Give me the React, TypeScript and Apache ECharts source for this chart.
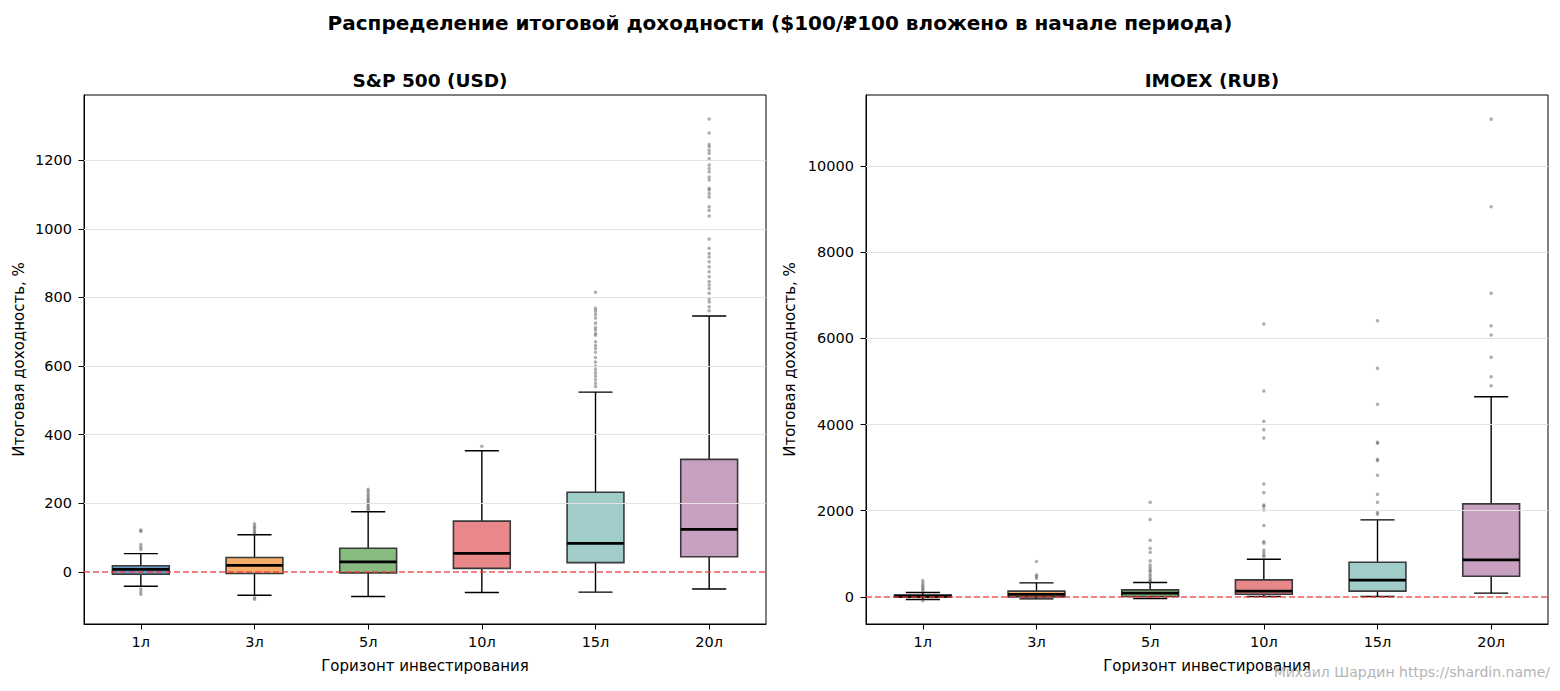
import React, { useEffect, useRef } from "react";
import * as echarts from "echarts";

const categories = ["1л", "3л", "5л", "10л", "15л", "20л"];
const boxColors = ["#6b9bc8", "#f4ad6b", "#88bb80", "#e8888a", "#a0ccc9", "#c8a0c0"];

// [lowWhisker, Q1, median, Q3, highWhisker]
const spStats = [
  [-42, -7, 7, 18, 53],
  [-68, -5, 19, 42, 108],
  [-72, -3, 29, 69, 175],
  [-60, 10, 54, 148, 353],
  [-59, 27, 83, 232, 524],
  [-50, 44, 124, 328, 746],
];
const spOutliers = [
  [122, 118, 80, 72, 65, -50, -58, -65],
  [140, 133, 128, 122, 116, 112, -75, -80],
  [241, 235, 228, 222, 215, 210, 205, 200, 195, 190, 185, 180],
  [366],
  [815, 768, 760, 750, 740, 725, 712, 705, 695, 690, 671, 660, 651, 640, 625, 612, 600, 590, 580, 570, 560, 550, 540],
  [1320, 1279, 1246, 1239, 1229, 1220, 1205, 1186, 1176, 1166, 1151, 1142, 1118, 1113, 1103, 1093, 1064, 1054, 1037, 970, 943, 928, 918, 904, 889, 875, 860, 846, 836, 826, 812, 797, 787, 773, 761],
];

const imStats = [
  [-60, -10, 15, 40, 100],
  [-46, 0, 60, 132, 325],
  [-39, 8, 86, 162, 332],
  [8, 62, 132, 394, 874],
  [8, 132, 387, 805, 1786],
  [86, 480, 858, 2158, 4647],
];
const imOutliers = [
  [380, 320, 270, 230, 190, 150, -90],
  [820, 510, 471, 433],
  [2197, 1794, 1315, 1129, 1036, 835, 742, 680, 626, 587, 527, 471, 418, 378, 348],
  [6334, 4779, 4076, 3882, 3689, 2622, 2420, 2134, 2096, 2018, 1655, 1284, 1245, 1090, 1028, 974, 935],
  [6410, 5306, 4470, 3589, 3566, 3194, 3162, 2823, 2383, 2197, 1956, 1918],
  [11090, 9056, 7046, 6294, 6078, 5561, 5111, 4902],
];

const spTicks = [0, 200, 400, 600, 800, 1000, 1200];
const imTicks = [0, 2000, 4000, 6000, 8000, 10000];

const FONT = "DejaVu Sans";
const TICK_FS = 14.5;

function boxRender(params: any, api: any) {
  const idx = api.value(0);
  const lo = api.coord([idx, api.value(1)]);
  const q1 = api.coord([idx, api.value(2)]);
  const med = api.coord([idx, api.value(3)]);
  const q3 = api.coord([idx, api.value(4)]);
  const hi = api.coord([idx, api.value(5)]);
  const bw = api.size([1, 0])[0] * 0.5;
  const cx = lo[0];
  const cap = bw * 0.3;
  const black = { stroke: "#000", lineWidth: 1.4 };
  return {
    type: "group",
    children: [
      { type: "line", shape: { x1: cx, y1: lo[1], x2: cx, y2: q1[1] }, style: black },
      { type: "line", shape: { x1: cx, y1: q3[1], x2: cx, y2: hi[1] }, style: black },
      { type: "line", shape: { x1: cx - cap, y1: lo[1], x2: cx + cap, y2: lo[1] }, style: black },
      { type: "line", shape: { x1: cx - cap, y1: hi[1], x2: cx + cap, y2: hi[1] }, style: black },
      {
        type: "rect",
        shape: { x: cx - bw / 2, y: q3[1], width: bw, height: q1[1] - q3[1] },
        style: { fill: boxColors[idx], stroke: "#3a3a3a", lineWidth: 1.6 },
      },
      { type: "line", shape: { x1: cx - bw / 2, y1: med[1], x2: cx + bw / 2, y2: med[1] }, style: { stroke: "#000", lineWidth: 2.8 } },
    ],
  };
}

function panelSeries(stats: number[][], outliers: number[][], ticks: number[], gi: number) {
  const boxData = stats.map((s, i) => [i, ...s]);
  const outData: number[][] = [];
  outliers.forEach((arr, i) => arr.forEach((v) => outData.push([i, v])));
  return [
    {
      type: "scatter",
      xAxisIndex: gi,
      yAxisIndex: gi,
      data: [],
      z: 0,
      silent: true,
      markLine: {
        silent: true,
        symbol: ["none", "none"],
        label: { show: false },
        lineStyle: { color: "#e3e3e3", type: "solid", width: 1 },
        data: ticks.filter((t) => t !== 0).map((t) => ({ yAxis: t })),
      },
    },
    {
      type: "custom",
      xAxisIndex: gi,
      yAxisIndex: gi,
      data: boxData,
      renderItem: boxRender,
      encode: { x: 0, y: [1, 2, 3, 4, 5] },
      z: 2,
      silent: true,
    },
    {
      type: "scatter",
      xAxisIndex: gi,
      yAxisIndex: gi,
      data: outData,
      symbolSize: 3.5,
      itemStyle: { color: "rgba(70,70,70,0.55)" },
      z: 3,
      silent: true,
    },
    {
      type: "scatter",
      xAxisIndex: gi,
      yAxisIndex: gi,
      data: [],
      z: 5,
      silent: true,
      markLine: {
        silent: true,
        symbol: ["none", "none"],
        label: { show: false },
        lineStyle: { color: "#f03c3c", opacity: 0.85, type: [6, 3], width: 1.5 },
        data: [{ yAxis: 0 }],
      },
    },
  ];
}

function yAxisCfg(gi: number, min: number, max: number, ticks: number[], gap: number) {
  return {
    type: "value",
    gridIndex: gi,
    min,
    max,
    name: "Итоговая доходность, %",
    nameLocation: "middle",
    nameGap: gap,
    nameTextStyle: { fontFamily: FONT, fontSize: 15, color: "#000" },
    axisLine: { show: true, onZero: false, lineStyle: { color: "#000" } },
    axisTick: { show: true, length: 5.5, customValues: ticks, lineStyle: { color: "#000" } },
    axisLabel: {
      customValues: ticks,
      formatter: (v: number) => String(v),
      fontFamily: FONT,
      fontSize: TICK_FS,
      color: "#000",
      margin: 12,
    },
    splitLine: { show: false },
  };
}

function xAxisCfg(gi: number) {
  return {
    type: "category",
    gridIndex: gi,
    data: categories,
    position: "bottom",
    name: "Горизонт инвестирования",
    nameLocation: "middle",
    nameGap: 34,
    nameTextStyle: { fontFamily: FONT, fontSize: 15, color: "#000" },
    axisLine: { show: true, onZero: false, lineStyle: { color: "#000" } },
    axisTick: { show: true, alignWithLabel: true, length: 5.5, lineStyle: { color: "#000" } },
    axisLabel: { fontFamily: FONT, fontSize: TICK_FS, color: "#000", margin: 10 },
    splitLine: { show: false },
  };
}

export default function App() {
  const ref = useRef<HTMLDivElement>(null);
  useEffect(() => {
    if (!ref.current) return;
    const chart = echarts.init(ref.current, undefined, { renderer: "svg" });
    chart.setOption({
      animation: false,
      backgroundColor: "#fff",
      title: [
        {
          text: "Распределение итоговой доходности ($100/₽100 вложено в начале периода)",
          left: "center",
          top: 8,
          textStyle: { fontFamily: FONT, fontSize: 20, fontWeight: "bold", color: "#000" },
        },
        {
          text: "S&P 500 (USD)",
          left: 425,
          textAlign: "center",
          top: 66,
          textStyle: { fontFamily: FONT, fontSize: 18.5, fontWeight: "bold", color: "#000" },
        },
        {
          text: "IMOEX (RUB)",
          left: 1207,
          textAlign: "center",
          top: 66,
          textStyle: { fontFamily: FONT, fontSize: 18.5, fontWeight: "bold", color: "#000" },
        },
      ],
      grid: [
        { left: 84, top: 95, width: 682, height: 529, show: true, borderColor: "#000", borderWidth: 1, backgroundColor: "transparent" },
        { left: 866, top: 95, width: 682, height: 529, show: true, borderColor: "#000", borderWidth: 1, backgroundColor: "transparent" },
      ],
      xAxis: [xAxisCfg(0), xAxisCfg(1)],
      yAxis: [
        yAxisCfg(0, -152, 1390, spTicks, 58),
        yAxisCfg(1, -630, 11650, imTicks, 69),
      ],
      series: [
        ...panelSeries(spStats, spOutliers, spTicks, 0),
        ...panelSeries(imStats, imOutliers, imTicks, 1),
      ],
      graphic: [
        {
          type: "text",
          right: 10,
          bottom: 12,
          style: { text: "Михаил Шардин https://shardin.name/", fontFamily: FONT, fontSize: 14, fill: "#b4b4b4" },
          z: 100,
        },
      ],
    });
    return () => chart.dispose();
  }, []);
  return <div ref={ref} style={{ position: "absolute", left: 0, top: 0, width: 1560, height: 691 }} />;
}
